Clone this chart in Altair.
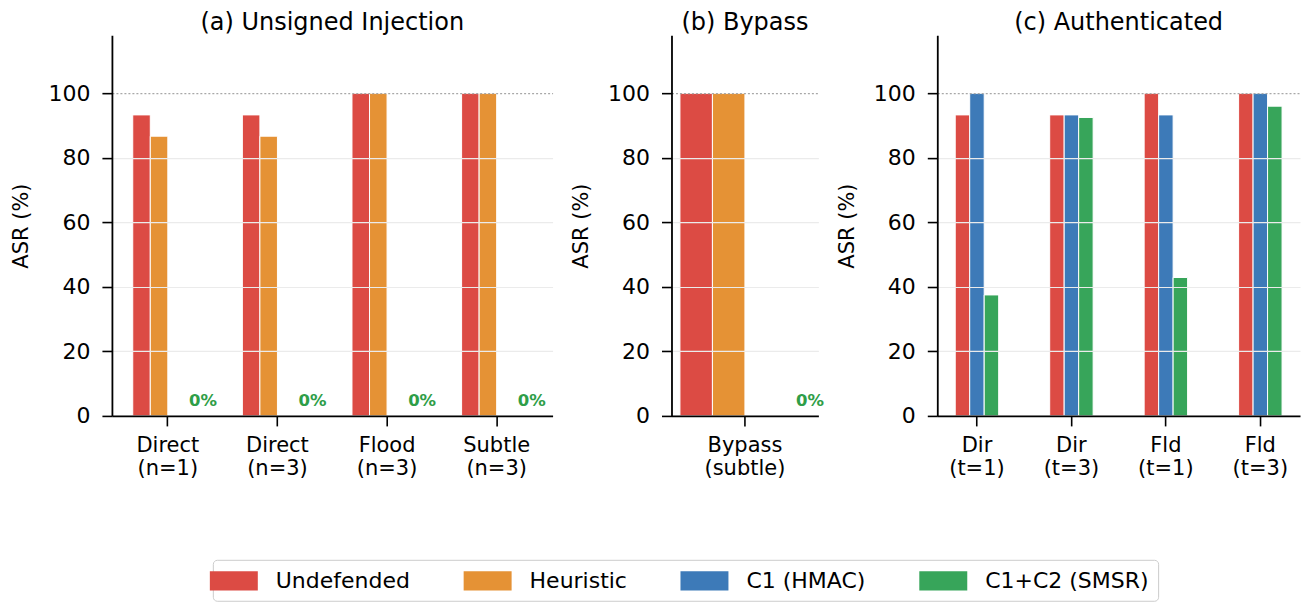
import altair as alt
import pandas as pd

FONT = "DejaVu Sans"

methods = ["Undefended", "Heuristic", "C1 (HMAC)", "C1+C2 (SMSR)"]
colors = ["#dc4b44", "#e59235", "#3d7ab8", "#37a55a"]

# (a) Unsigned Injection
a_cats = ["Direct|(n=1)", "Direct|(n=3)", "Flood|(n=3)", "Subtle|(n=3)"]
a_undef = [93.3, 93.3, 100, 100]
a_heur = [86.7, 86.7, 100, 100]
a_smsr = [0, 0, 0, 0]

# (b) Bypass
b_cats = ["Bypass|(subtle)"]
b_undef = [100]
b_heur = [100]
b_smsr = [0]

# (c) Authenticated
c_cats = ["Dir|(t=1)", "Dir|(t=3)", "Fld|(t=1)", "Fld|(t=3)"]
c_undef = [93.3, 93.3, 100, 100]
c_hmac = [100, 93.3, 93.3, 100]
c_smsr = [37.5, 92.5, 42.9, 96.0]

y_ticks = [0, 20, 40, 60, 80, 100]


def long_df(cats, series):
    rows = []
    for m, vals in series.items():
        for c, v in zip(cats, vals):
            rows.append({"cat": c, "method": m, "value": v})
    return pd.DataFrame(rows)


def panel(df, cats, offs, title, width, pin, pout):
    x = alt.X(
        "cat:N",
        sort=cats,
        scale=alt.Scale(domain=cats, paddingInner=pin, paddingOuter=pout),
        axis=alt.Axis(
            title=None,
            labelExpr="split(datum.label, '|')",
            labelAngle=0,
            labelFontSize=21,
            labelLineHeight=23,
            labelPadding=9,
            zindex=1,
        ),
    )
    xo = alt.XOffset(
        "method:N",
        scale=alt.Scale(domain=offs, paddingInner=0, paddingOuter=0),
    )
    y = alt.Y(
        "value:Q",
        scale=alt.Scale(domain=[0, 118], nice=False),
        axis=alt.Axis(
            title="ASR (%)",
            values=y_ticks,
            labelFontSize=22,
            titleFontSize=21,
            titleFontWeight="normal",
            titlePadding=16,
            labelPadding=12,
            zindex=1,
            grid=True,
            gridColor={
                "condition": {"test": "datum.value === 100", "value": "#a8a8a8"},
                "value": "#ebebeb",
            },
            gridDash={
                "condition": {"test": "datum.value === 100", "value": [2, 2]},
                "value": [],
            },
            gridWidth=1.2,
        ),
    )
    color = alt.Color(
        "method:N",
        scale=alt.Scale(domain=methods, range=colors),
        legend=alt.Legend(
            title=None,
            orient="none",
            direction="horizontal",
            legendX=101,
            legendY=525,
            symbolType="M-2,-0.8H2V0.8H-2Z",
            symbolSize=576,
            symbolStrokeWidth=0,
            labelFontSize=22,
            labelOffset=30,
            labelLimit=400,
            columnPadding=53,
            padding=9,
            strokeColor="#cccccc",
            fillColor="white",
            cornerRadius=4,
        ),
    )
    bars = (
        alt.Chart(df)
        .transform_filter("datum.value > 0")
        .mark_bar(stroke="white", strokeWidth=1)
        .encode(x=x, xOffset=xo, y=y, color=color)
    )
    zeros = (
        alt.Chart(df)
        .transform_filter("datum.value == 0")
        .mark_text(
            text="0%",
            fontWeight="bold",
            fontSize=16.5,
            color="#2e9e48",
            baseline="alphabetic",
            dy=-10,
        )
        .encode(x=x, xOffset=xo, y=y)
    )
    return (
        alt.layer(bars, zeros)
        .properties(
            width=width,
            height=381,
            title=alt.TitleParams(title, fontSize=24, fontWeight="normal", offset=0),
        )
        .resolve_scale(xOffset="independent")
    )


df_a = long_df(a_cats, {"Undefended": a_undef, "Heuristic": a_heur, "C1+C2 (SMSR)": a_smsr})
df_b = long_df(b_cats, {"Undefended": b_undef, "Heuristic": b_heur, "C1+C2 (SMSR)": b_smsr})
df_c = long_df(c_cats, {"Undefended": c_undef, "C1 (HMAC)": c_hmac, "C1+C2 (SMSR)": c_smsr})

pa = panel(df_a, a_cats, methods, "(a) Unsigned Injection", 441, 0.36, 0.19)
pb = panel(df_b, b_cats, methods, "(b) Bypass", 147, 0.0, 0.065)
pc = panel(df_c, c_cats, ["Undefended", "C1 (HMAC)", "C1+C2 (SMSR)"], "(c) Authenticated", 363, 0.54, 0.19)

chart = (
    alt.hconcat(pa, pb, pc, spacing=119, bounds="flush")
    .resolve_scale(x="independent", y="independent", xOffset="independent")
    .properties(padding={"left": 3, "top": 3, "right": 5, "bottom": 0})
    .configure_view(stroke=None)
    .configure_axis(
        domainColor="black",
        domainWidth=1.8,
        tickColor="black",
        tickWidth=1.6,
        tickSize=10,
        labelColor="black",
        titleColor="black",
        labelFont=FONT,
        titleFont=FONT,
    )
    .configure_title(font=FONT, color="black", anchor="middle")
    .configure_legend(labelFont=FONT, labelColor="black")
    .configure_text(font=FONT)
)

chart.save("out.html", embed_options={"renderer": "svg", "actions": False})
